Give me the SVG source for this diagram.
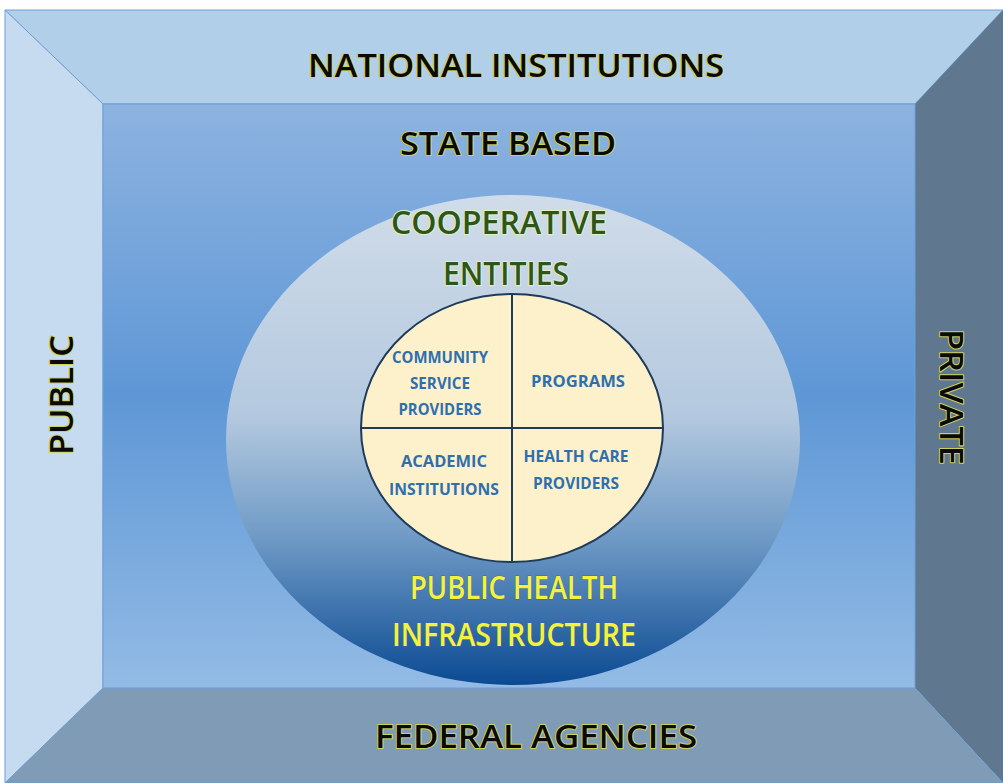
<svg xmlns="http://www.w3.org/2000/svg" width="1003" height="783" viewBox="0 0 1003 783">
<defs>
<linearGradient id="gInner" x1="0" y1="0" x2="0" y2="1">
<stop offset="0" stop-color="#8db3e0"/>
<stop offset="0.5" stop-color="#5e97d6"/>
<stop offset="1" stop-color="#93bbe5"/>
</linearGradient>
<linearGradient id="gEll" x1="0" y1="0" x2="0" y2="1">
<stop offset="0" stop-color="#d0dce9"/>
<stop offset="0.45" stop-color="#b4c9df"/>
<stop offset="0.7" stop-color="#6f9ac6"/>
<stop offset="1" stop-color="#0b4a92"/>
</linearGradient>
<style>
.big{font-family:"Open Sans","Liberation Sans",sans-serif;font-size:33px;font-weight:600;text-anchor:middle}
.blk{fill:#0a0a0a;stroke:#cfd25a;stroke-width:2;paint-order:stroke;stroke-linejoin:round}
.grn{fill:#2c561c;stroke:#e6efc0;stroke-width:2;paint-order:stroke;stroke-linejoin:round}
.yel{fill:#f4f23a;stroke:#3d6aa0;stroke-width:0.8;paint-order:stroke}
.q{font-family:"Open Sans","Liberation Sans",sans-serif;font-size:16.5px;font-weight:bold;fill:#2f6fae;text-anchor:middle}
.edge{stroke:#6f9fd6;stroke-width:1}
.div{stroke:#1f3b5a;stroke-width:2}
</style>
</defs>
<rect width="1003" height="783" fill="#ffffff"/>
<g id="frame">
<polygon id="top" points="5,10 1003,10 915,104 103,104" fill="#b2cfea" class="edge"/>
<polygon id="left" points="5,10 103,104 103,688 5,783" fill="#c6dbf0" class="edge"/>
<polygon id="right" points="1003,10 1003,783 915,688 915,104" fill="#5f778f"/>
<polygon id="bottom" points="103,688 915,688 1003,783 5,783" fill="#7f9bb6" class="edge"/>
<rect id="center" x="103" y="104" width="812" height="584" fill="url(#gInner)" class="edge"/>
</g>
<g id="labels-frame">
<text class="big blk" x="516" y="77" textLength="416" lengthAdjust="spacingAndGlyphs">NATIONAL INSTITUTIONS</text>
<text class="big blk" x="508" y="155" textLength="216" lengthAdjust="spacingAndGlyphs">STATE BASED</text>
<text class="big blk" x="536" y="748" textLength="322" lengthAdjust="spacingAndGlyphs">FEDERAL AGENCIES</text>
<text class="big blk" transform="translate(73,395) rotate(-90)" x="0" y="0" textLength="120" lengthAdjust="spacingAndGlyphs">PUBLIC</text>
<text class="big blk" transform="translate(940,397) rotate(90)" x="0" y="0" textLength="136" lengthAdjust="spacingAndGlyphs">PRIVATE</text>
</g>
<g id="ellipse">
<ellipse cx="513" cy="440" rx="287" ry="245" fill="url(#gEll)"/>
<text class="big grn" x="499" y="234" textLength="216" lengthAdjust="spacingAndGlyphs">COOPERATIVE</text>
<text class="big grn" x="506" y="285" textLength="126" lengthAdjust="spacingAndGlyphs">ENTITIES</text>
<text class="big yel" x="514" y="599" textLength="208" lengthAdjust="spacingAndGlyphs">PUBLIC HEALTH</text>
<text class="big yel" x="514" y="646" textLength="244" lengthAdjust="spacingAndGlyphs">INFRASTRUCTURE</text>
</g>
<g id="quadrants">
<ellipse cx="512" cy="428" rx="151" ry="134" fill="#fdf1cc" stroke="#1f3b5a" stroke-width="2"/>
</g>
<g id="connectors">
<line class="div" x1="512" y1="295" x2="512" y2="562"/>
<line class="div" x1="361" y1="428" x2="663" y2="428"/>
</g>
<g id="q-community">
<text class="q" x="440" y="363" textLength="96" lengthAdjust="spacingAndGlyphs">COMMUNITY</text>
<text class="q" x="440" y="389" textLength="60" lengthAdjust="spacingAndGlyphs">SERVICE</text>
<text class="q" x="440" y="415" textLength="83" lengthAdjust="spacingAndGlyphs">PROVIDERS</text>
</g>
<g id="q-programs">
<text class="q" x="578" y="387" textLength="94" lengthAdjust="spacingAndGlyphs">PROGRAMS</text>
</g>
<g id="q-academic">
<text class="q" x="444" y="467" textLength="86" lengthAdjust="spacingAndGlyphs">ACADEMIC</text>
<text class="q" x="444" y="495" textLength="110" lengthAdjust="spacingAndGlyphs">INSTITUTIONS</text>
</g>
<g id="q-health">
<text class="q" x="576" y="462" textLength="105" lengthAdjust="spacingAndGlyphs">HEALTH CARE</text>
<text class="q" x="576" y="489" textLength="86" lengthAdjust="spacingAndGlyphs">PROVIDERS</text>
</g>
</svg>
